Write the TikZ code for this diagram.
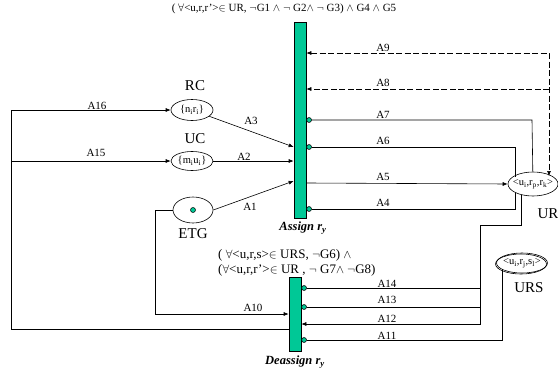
\documentclass[tikz,border=0pt]{standalone}
\usepackage{fontspec}
\setmainfont{Liberation Serif}
\usetikzlibrary{arrows.meta,shapes.geometric}
\definecolor{pgreen}{RGB}{0,200,150}
\begin{document}
\begin{tikzpicture}[x=1pt,y=-1pt,
  tr/.style={draw=black, fill=pgreen, line width=0.6pt, inner sep=0, minimum width=12pt},
  pl/.style={draw, ellipse, line width=0.6pt, inner sep=0},
  ptxt/.style={inner sep=0, font=\fontsize{10.5}{11}\selectfont},
  arc/.style={line width=0.6pt},
  to/.style={arc, -{Latex[length=5pt,width=4pt]}},
  inh/.style={arc, {Circle[length=5.5pt,width=5.5pt,fill=pgreen]}-},
  rd/.style={arc, dash pattern=on 6pt off 2.5pt},
  lab/.style={font=\fontsize{11}{12}\selectfont, inner sep=0},
  big/.style={font=\fontsize{15}{16}\selectfont, inner sep=0},
  tlab/.style={font=\fontsize{12.5}{13}\selectfont\bfseries\itshape, inner sep=0},
  ]
\useasboundingbox (0,0) rectangle (558,375);
% transitions
\node[tr, minimum height=196pt] (assign) at (300,120) {};
\node[tr, minimum height=74pt] (deassign) at (295,314) {};
% places
\node[pl, minimum width=42pt, minimum height=21pt] (rc) at (192,110) {};
\node[ptxt] (rct) at (rc.center) {\{n\textsubscript{i}r\textsubscript{i}\}};
\node[pl, minimum width=42pt, minimum height=19pt] (uc) at (192,161) {};
\node[ptxt] (uct) at (uc.center) {\{m\textsubscript{i}u\textsubscript{i}\}};
\node[pl, minimum width=40pt, minimum height=26pt] (etg) at (193,210) {};
\node[circle, draw, fill=pgreen, inner sep=0, minimum size=5pt, line width=0.5pt] (tok) at (etg.center) {};
\node[pl, minimum width=50pt, minimum height=24pt] (ur) at (533,184) {};
\node[ptxt] (urt) at (ur.center) {<u\textsubscript{i},r\textsubscript{p},r\textsubscript{k}>};
\node[pl, minimum width=51pt, minimum height=20pt] (urs) at (522,263) {};
\node[pl, minimum width=51pt, minimum height=20pt] (urs2) at (521,264) {};
\node[ptxt] (urst) at (urs.center) {<u\textsubscript{i},r\textsubscript{j},s\textsubscript{l}>};
% place labels
\node[big] (rcl) at (195,86) {RC};
\node[big] (ucl) at (195,139) {UC};
\node[big] (etgl) at (193,234) {ETG};
\node[big] (url) at (548,214) {UR};
\node[big] (ursl) at (529,288) {URS};
% guards
\node[lab] (g1) at (284,9) {( $\forall$<u,r,r'>$\in$ UR, $\neg$G1 $\wedge$ $\neg$ G2$\wedge$ $\neg$ G3) $\wedge$ G4 $\wedge$ G5};
\node[lab, anchor=west, align=left, font=\fontsize{13}{15}\selectfont] (g2) at (218,263) {( $\forall$<u,r,s>$\in$ URS, $\neg$G6) $\wedge$\\($\forall$<u,r,r'>$\in$ UR , $\neg$ G7$\wedge$ $\neg$G8)};
\node[tlab] (al) at (303,228) {Assign r\textsubscript{y}};
\node[tlab] (dl) at (295,362) {Deassign r\textsubscript{y}};
% coordinates
\coordinate (l1) at (11,329);
\coordinate (l2) at (11,110);
\coordinate (l3) at (11,161);
\coordinate (e1) at (155,210);
\coordinate (e2) at (155,314);
\coordinate (d9a) at (549,53);
\coordinate (d9b) at (549,176);
\coordinate (d8) at (549,89);
\coordinate (c7) at (532,120);
\coordinate (c6a) at (515,147);
\coordinate (c6b) at (515,177);
\coordinate (c4a) at (515,209);
\coordinate (c4b) at (515,193);
\coordinate (u1) at (521,194.5);
\coordinate (u2) at (521,225);
\coordinate (u3) at (480,225);
\coordinate (u4) at (480,324);
\coordinate (u5) at (480,288);
\coordinate (u6) at (480,307);
\coordinate (s1) at (502,340);
\coordinate (s2) at (502,269);
% left arcs
\draw[to] (deassign.west |- l1) -- (l1) -- (l2) -- (rc);
\draw[to] (l3) -- (uc);
\draw[to] (rc) -- (assign.west |- 0,147);
\draw[to] (uc) -- (assign.west |- 0,161);
\draw[to] (etg.east) -- (assign.west |- 0,181);
\draw[to] (etg.west) -- (e1) -- (e2) -- (deassign.west |- e2);
% right arcs of assign
\draw[rd, {Latex[length=5pt,width=4pt]}-{Latex[length=5pt,width=4pt]}] (assign.east |- d9a) -- (d9a) -- (d9b);
\draw[rd, -{Latex[length=5pt,width=4pt]}] (d8) -- (assign.east |- d8);
\draw[inh] (assign.east |- c7) -- (c7) -- (ur);
\draw[inh] (assign.east |- c6a) -- (c6a) -- (c6b);
\draw[to] (assign.east |- 0,183) -- (ur.west);
\draw[inh] (assign.east |- c4a) -- (c4a) -- (c4b);
% arcs of deassign
\draw[to] (u1) -- (u2) -- (u3) -- (u4) -- (deassign.east |- u4);
\draw[inh] (deassign.east |- u5) -- (u5);
\draw[inh] (deassign.east |- u6) -- (u6);
\draw[inh] (deassign.east |- s1) -- (s1) -- (s2);
% arc labels
\node[lab] (a16) at (97,106) {A16};
\node[lab] (a15) at (96,153) {A15};
\node[lab] (a3) at (251,121) {A3};
\node[lab] (a2) at (244,157) {A2};
\node[lab] (a1) at (250,207) {A1};
\node[lab] (a10) at (253,308) {A10};
\node[lab] (a9) at (383,48) {A9};
\node[lab] (a8) at (383,83) {A8};
\node[lab] (a7) at (383,115) {A7};
\node[lab] (a6) at (383,141) {A6};
\node[lab] (a5) at (383,177) {A5};
\node[lab] (a4) at (383,203) {A4};
\node[lab] (a14) at (387,284) {A14};
\node[lab] (a13) at (387,300) {A13};
\node[lab] (a12) at (387,319) {A12};
\node[lab] (a11) at (387,336) {A11};
\end{tikzpicture}
\end{document}
